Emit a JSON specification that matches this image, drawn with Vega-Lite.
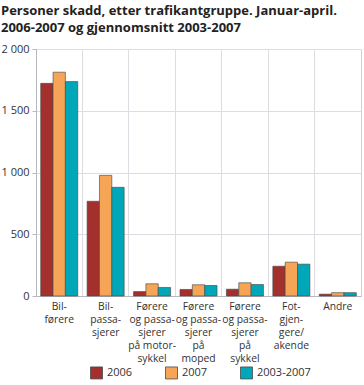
{
  "$schema": "https://vega.github.io/schema/vega-lite/v6.json",
  "width": 325,
  "height": 247,
  "autosize": {"type": "none"},
  "padding": {"left": 36, "top": 49, "right": 3, "bottom": 89},
  "background": "white",
  "title": {
    "text": ["Personer skadd, etter trafikantgruppe. Januar-april.", "2006-2007 og gjennomsnitt 2003-2007"],
    "anchor": "start",
    "frame": "bounds",
    "font": "Open Sans",
    "fontSize": 13,
    "fontWeight": "bold",
    "color": "#222222",
    "lineHeight": 17,
    "offset": 8
  },
  "config": {
    "font": "Open Sans",
    "view": {"stroke": "#d0d0d6", "strokeWidth": 1},
    "axis": {"labelFont": "Open Sans", "labelFontSize": 11, "labelColor": "#333333", "gridColor": "#dcdce2", "domainColor": "#b8b8c0", "tickColor": "#b8b8c0"}
  },
  "data": {
    "values": [
      {"cat": "Bil-\nførere", "order": 1, "serie": "2006", "value": 1722},
      {"cat": "Bil-\nførere", "order": 1, "serie": "2007", "value": 1812},
      {"cat": "Bil-\nførere", "order": 1, "serie": "2003-2007", "value": 1736},
      {"cat": "Bil-\npassa-\nsjerer", "order": 2, "serie": "2006", "value": 767},
      {"cat": "Bil-\npassa-\nsjerer", "order": 2, "serie": "2007", "value": 977},
      {"cat": "Bil-\npassa-\nsjerer", "order": 2, "serie": "2003-2007", "value": 880},
      {"cat": "Førere\nog passa-\nsjerer\npå motor-\nsykkel", "order": 3, "serie": "2006", "value": 36},
      {"cat": "Førere\nog passa-\nsjerer\npå motor-\nsykkel", "order": 3, "serie": "2007", "value": 99},
      {"cat": "Førere\nog passa-\nsjerer\npå motor-\nsykkel", "order": 3, "serie": "2003-2007", "value": 69},
      {"cat": "Førere\nog passa-\nsjerer\npå\nmoped", "order": 4, "serie": "2006", "value": 53},
      {"cat": "Førere\nog passa-\nsjerer\npå\nmoped", "order": 4, "serie": "2007", "value": 91},
      {"cat": "Førere\nog passa-\nsjerer\npå\nmoped", "order": 4, "serie": "2003-2007", "value": 85},
      {"cat": "Førere\nog passa-\nsjerer\npå\nsykkel", "order": 5, "serie": "2006", "value": 55},
      {"cat": "Førere\nog passa-\nsjerer\npå\nsykkel", "order": 5, "serie": "2007", "value": 107},
      {"cat": "Førere\nog passa-\nsjerer\npå\nsykkel", "order": 5, "serie": "2003-2007", "value": 93},
      {"cat": "Fot-\ngjen-\ngere/\nakende", "order": 6, "serie": "2006", "value": 241},
      {"cat": "Fot-\ngjen-\ngere/\nakende", "order": 6, "serie": "2007", "value": 274},
      {"cat": "Fot-\ngjen-\ngere/\nakende", "order": 6, "serie": "2003-2007", "value": 258},
      {"cat": "Andre", "order": 7, "serie": "2006", "value": 15},
      {"cat": "Andre", "order": 7, "serie": "2007", "value": 27},
      {"cat": "Andre", "order": 7, "serie": "2003-2007", "value": 27}
    ]
  },
  "mark": {"type": "bar", "stroke": "#4a4a4a", "strokeWidth": 0.8, "strokeOpacity": 0.8},
  "encoding": {
    "x": {
      "field": "cat",
      "type": "nominal",
      "sort": {"field": "order"},
      "scale": {"paddingInner": 0, "paddingOuter": 0},
      "axis": {
        "title": null,
        "labelAngle": 0,
        "ticks": false,
        "grid": true,
        "bandPosition": 0,
        "labelPadding": 5,
        "labelFontSize": 10.3,
        "labelLineHeight": 13,
        "labelBaseline": "top",
        "labelExpr": "split(datum.label, '\\n')"
      }
    },
    "xOffset": {
      "field": "serie",
      "type": "nominal",
      "sort": ["2006", "2007", "2003-2007"],
      "scale": {"paddingInner": 0, "paddingOuter": 0.38}
    },
    "y": {
      "field": "value",
      "type": "quantitative",
      "scale": {"domain": [0, 2000], "nice": false},
      "axis": {
        "title": null,
        "values": [0, 500, 1000, 1500, 2000],
        "tickSize": 4,
        "labelPadding": 3,
        "labelExpr": "replace(format(datum.value, ','), ',', ' ')"
      }
    },
    "color": {
      "field": "serie",
      "type": "nominal",
      "sort": ["2006", "2007", "2003-2007"],
      "scale": {"domain": ["2006", "2007", "2003-2007"], "range": ["#a3302c", "#f5a555", "#00a7b8"]},
      "legend": {
        "title": null,
        "orient": "none",
        "direction": "horizontal",
        "legendX": 54,
        "legendY": 317,
        "symbolType": "square",
        "symbolSize": 144,
        "symbolStrokeColor": "#4a4a4a",
        "symbolStrokeWidth": 0.8,
        "labelFont": "Open Sans",
        "labelFontSize": 11,
        "labelColor": "#333333",
        "labelOffset": 4,
        "columnPadding": 30
      }
    }
  }
}
